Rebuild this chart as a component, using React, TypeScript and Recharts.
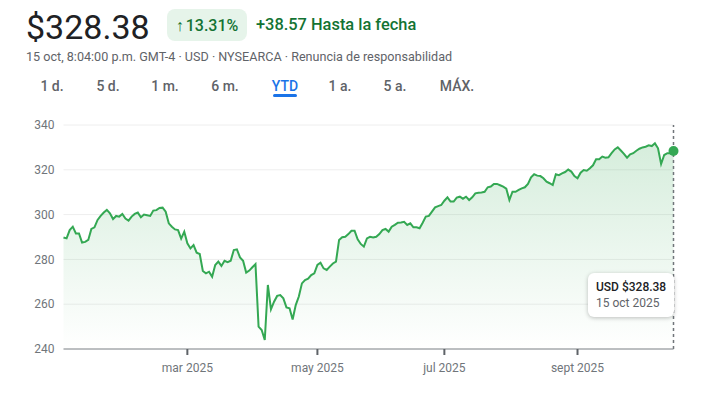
import React from "react";
import {
  AreaChart,
  Area,
  XAxis,
  YAxis,
  CartesianGrid,
  ReferenceLine,
  ReferenceDot,
} from "recharts";

// precios de cierre diarios (por mes, un valor por sesión)
const dec31 = [289.81];
const jan = [
  289.4, 293.1, 294.6, 291.6, 291.6, 287.5, 287.8, 288.7, 293.6, 294.3,
  297.6, 299.4, 300.9, 302.1, 300.6, 298.0, 299.4, 299.1, 300.3, 298.2,
];
const feb = [
  297.3, 299.1, 300.3, 300.9, 298.8, 300.0, 299.7, 299.4, 301.8, 302.0,
  303.0, 303.1, 301.3, 296.1, 294.6, 293.4, 293.1, 289.3, 292.4,
];
const mar = [
  287.2, 284.9, 286.4, 283.0, 282.4, 274.8, 273.8, 274.5, 272.3, 277.5,
  279.0, 277.1, 279.4, 278.8, 279.4, 284.2, 284.5, 280.9, 279.4, 274.1, 275.0,
];
const apr = [
  276.5, 277.9, 250.0, 248.5, 244.0, 268.6, 257.7, 261.1, 263.7, 264.1,
  262.6, 258.6, 258.2, 253.2, 259.6, 263.4, 269.3, 270.8, 271.4, 273.0, 273.8,
];
const may = [
  277.5, 278.5, 276.0, 275.3, 276.8, 278.2, 279.0, 288.7, 289.9, 290.1,
  291.3, 292.8, 292.8, 289.0, 286.9, 285.7, 289.4, 290.1, 289.8, 290.1, 291.3,
];
const jun = [
  293.1, 293.6, 292.4, 294.6, 295.4, 296.4, 296.5, 296.8, 295.4, 296.1,
  294.3, 294.3, 293.9, 296.4, 299.1, 299.4, 301.3, 303.2, 303.8, 304.3,
];
const jul = [
  306.2, 307.7, 305.8, 305.8, 307.6, 308.0, 307.1, 308.0, 306.5, 307.7, 309.5,
  309.8, 309.9, 310.2, 312.2, 312.5, 313.7, 313.7, 313.1, 312.5, 311.6, 306.5,
];
const aug = [
  310.2, 310.2, 311.0, 311.7, 312.2, 313.7, 316.6, 318.0, 317.4, 317.2,
  316.2, 314.7, 314.0, 313.2, 318.0, 317.6, 318.4, 319.0, 320.1, 319.2, 317.2,
];
const sep = [
  316.2, 318.7, 319.9, 319.6, 320.7, 322.0, 324.7, 324.7, 325.9, 325.4,
  325.6, 327.4, 329.1, 330.0, 328.6, 327.1, 325.4, 326.9, 327.4, 328.5, 329.4,
];
const oct = [
  330.0, 330.3, 330.9, 330.6, 331.8, 329.6, 322.6, 326.6, 327.4, 327.4, 328.38,
];

const monthKeys = ["dic", "ene", "feb", "mar", "abr", "may", "jun", "jul", "ago", "sep", "oct"];
const monthValues = [dec31, jan, feb, mar, apr, may, jun, jul, aug, sep, oct];
const tickMonths = ["mar", "may", "jul", "sep"];
const tickLabels = ["mar 2025", "may 2025", "jul 2025", "sept 2025"];
const yTicks = [240, 260, 280, 300, 320, 340];
const ranges = ["1 d.", "5 d.", "1 m.", "6 m.", "YTD", "1 a.", "5 a.", "MÁX."];

const data: { i: number; price: number }[] = [];
const monthStart: Record<string, number> = {};
monthValues.forEach((vals, m) => {
  monthStart[monthKeys[m]] = data.length;
  vals.forEach((v) => data.push({ i: data.length, price: v }));
});
const xTicks = tickMonths.map((k) => monthStart[k]);
const last = data[data.length - 1];

const green = "#34a853";
const tabX = [52, 108, 165, 225, 285, 340, 395, 457];

export default function App() {
  return (
    <div
      style={{
        position: "absolute",
        left: 0,
        top: 0,
        width: 702,
        height: 393,
        background: "#fff",
        fontFamily: "Roboto, Arial, sans-serif",
        overflow: "hidden",
      }}
    >
      <div
        style={{
          position: "absolute",
          left: 26,
          top: 10,
          fontSize: 34,
          lineHeight: "34px",
          color: "#202124",
        }}
      >
        $328.38
      </div>
      <div
        style={{
          position: "absolute",
          left: 167,
          top: 9,
          width: 80,
          height: 32,
          borderRadius: 8,
          background: "#e6f4ea",
          color: "#137333",
          fontSize: 16,
          fontWeight: 500,
          display: "flex",
          alignItems: "center",
          justifyContent: "center",
        }}
      >
        <span style={{ fontSize: 16, fontWeight: 700, marginRight: 2 }}>↑</span>13.31%
      </div>
      <div
        style={{
          position: "absolute",
          left: 256,
          top: 15,
          fontSize: 16.4,
          lineHeight: "20px",
          fontWeight: 500,
          color: "#137333",
        }}
      >
        +38.57 Hasta la fecha
      </div>
      <div
        style={{
          position: "absolute",
          left: 26,
          top: 49,
          fontSize: 12.6,
          lineHeight: "16px",
          color: "#5f6368",
          whiteSpace: "nowrap",
        }}
      >
        15 oct, 8:04:00 p.m. GMT-4 · USD · NYSEARCA · Renuncia de responsabilidad
      </div>
      {ranges.map((r, k) => (
        <div
          key={r}
          style={{
            position: "absolute",
            left: tabX[k],
            top: 77,
            transform: "translateX(-50%)",
            fontSize: 14,
            lineHeight: "18px",
            fontWeight: 500,
            color: r === "YTD" ? "#1a73e8" : "#5f6368",
            whiteSpace: "nowrap",
          }}
        >
          {r}
        </div>
      ))}
      <div
        style={{
          position: "absolute",
          left: 273,
          top: 94,
          width: 24,
          height: 3,
          borderRadius: 2,
          background: "#1a73e8",
        }}
      />

      <div style={{ position: "absolute", left: 0, top: 110 }}>
        <AreaChart
          width={702}
          height={283}
          data={data}
          margin={{ top: 15, right: 28.5, bottom: 14, left: 0 }}
        >
          <defs>
            <linearGradient id="fillGreen" x1="0" y1="0" x2="0" y2="1">
              <stop offset="0%" stopColor={green} stopOpacity={0.34} />
              <stop offset="100%" stopColor={green} stopOpacity={0} />
            </linearGradient>
          </defs>
          <CartesianGrid vertical={false} stroke="#eeeeee" />
          <XAxis
            type="number"
            dataKey="i"
            domain={[0, last.i]}
            ticks={xTicks}
            tickFormatter={(v: number) => tickLabels[xTicks.indexOf(v)]}
            height={30}
            axisLine={{ stroke: "#80868b" }}
            tickLine={{ stroke: "#5f6368", strokeWidth: 2 }}
            tickSize={6}
            tickMargin={8}
            tick={{ fill: "#70757a", fontSize: 12 }}
          />
          <YAxis
            type="number"
            domain={[240, 340]}
            ticks={yTicks}
            width={63.5}
            axisLine={false}
            tickLine={false}
            tickSize={0}
            tickMargin={9}
            tick={{ fill: "#70757a", fontSize: 12 }}
          />
          <Area
            type="linear"
            dataKey="price"
            stroke={green}
            strokeWidth={2}
            fill="url(#fillGreen)"
            dot={false}
            activeDot={false}
            isAnimationActive={false}
          />
          <ReferenceLine
            x={last.i}
            stroke="#70757a"
            strokeWidth={1.5}
            strokeDasharray="3 3"
          />
          <ReferenceDot x={last.i} y={last.price} r={5} fill={green} stroke="none" />
        </AreaChart>
      </div>

      <div
        style={{
          position: "absolute",
          left: 588,
          top: 273,
          width: 86,
          height: 44,
          boxSizing: "border-box",
          padding: "6px 0 0 8px",
          background: "#fff",
          borderRadius: 6,
          boxShadow: "0 1px 4px rgba(0,0,0,0.25)",
          fontSize: 12,
          lineHeight: "16px",
        }}
      >
        <div style={{ color: "#202124", fontWeight: 500 }}>USD $328.38</div>
        <div style={{ color: "#5f6368" }}>15 oct 2025</div>
      </div>
    </div>
  );
}
